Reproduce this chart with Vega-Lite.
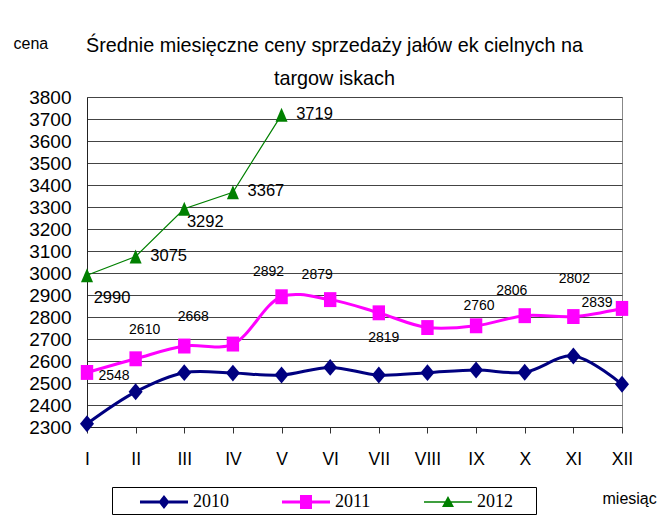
{
  "$schema": "https://vega.github.io/schema/vega-lite/v6.json",
  "autosize": {"type": "none"},
  "padding": {"left": 87, "top": 97, "right": 36, "bottom": 98},
  "width": 535,
  "height": 330,
  "background": "white",
  "title": {
    "text": ["Średnie miesięczne ceny sprzedaży jałów ek cielnych na", "targow iskach"],
    "font": "Liberation Sans",
    "fontSize": 19.8,
    "fontWeight": "normal",
    "color": "black",
    "lineHeight": 33,
    "anchor": "middle",
    "dx": -20,
    "offset": -54
  },
  "data": {
    "values": [
      {"month": "I", "series": "2010", "value": 2315},
      {"month": "II", "series": "2010", "value": 2460},
      {"month": "III", "series": "2010", "value": 2547},
      {"month": "IV", "series": "2010", "value": 2545},
      {"month": "V", "series": "2010", "value": 2536},
      {"month": "VI", "series": "2010", "value": 2571},
      {"month": "VII", "series": "2010", "value": 2536},
      {"month": "VIII", "series": "2010", "value": 2547},
      {"month": "IX", "series": "2010", "value": 2559},
      {"month": "X", "series": "2010", "value": 2549},
      {"month": "XI", "series": "2010", "value": 2623},
      {"month": "XII", "series": "2010", "value": 2494},
      {"month": "I", "series": "2011", "value": 2548},
      {"month": "II", "series": "2011", "value": 2610},
      {"month": "III", "series": "2011", "value": 2668},
      {"month": "IV", "series": "2011", "value": 2677},
      {"month": "V", "series": "2011", "value": 2892},
      {"month": "VI", "series": "2011", "value": 2879},
      {"month": "VII", "series": "2011", "value": 2819},
      {"month": "VIII", "series": "2011", "value": 2752},
      {"month": "IX", "series": "2011", "value": 2760},
      {"month": "X", "series": "2011", "value": 2806},
      {"month": "XI", "series": "2011", "value": 2802},
      {"month": "XII", "series": "2011", "value": 2839},
      {"month": "I", "series": "2012", "value": 2990},
      {"month": "II", "series": "2012", "value": 3075},
      {"month": "III", "series": "2012", "value": 3292},
      {"month": "IV", "series": "2012", "value": 3367},
      {"month": "V", "series": "2012", "value": 3719}
    ]
  },
  "encoding": {
    "x": {
      "field": "month", "type": "ordinal",
      "sort": ["I","II","III","IV","V","VI","VII","VIII","IX","X","XI","XII"],
      "scale": {"type": "point", "padding": 0, "domain": ["I","II","III","IV","V","VI","VII","VIII","IX","X","XI","XII"]},
      "axis": {
        "title": "miesiąc",
        "titleAngle": 0,
        "titleX": 515, "titleY": 76,
        "titleAlign": "left", "titleBaseline": "alphabetic",
        "titleFont": "Liberation Sans",
        "titleFontSize": 16, "titleFontWeight": "normal", "titleColor": "black",
        "labelAngle": 0,
        "labelFont": "Liberation Sans",
        "labelFontSize": 17.5, "labelColor": "black",
        "labelPadding": 17,
        "tickSize": 6, "tickColor": "#333", "ticks": true,
        "domainColor": "#222",
        "grid": false
      }
    },
    "y": {
      "field": "value", "type": "quantitative",
      "scale": {"domain": [2300, 3800], "nice": false, "zero": false},
      "axis": {
        "title": "cena",
        "titleAngle": 0,
        "titleX": -74, "titleY": -49,
        "titleAlign": "left", "titleBaseline": "alphabetic",
        "titleFont": "Liberation Sans",
        "titleFontSize": 16, "titleFontWeight": "normal", "titleColor": "black",
        "values": [2300,2400,2500,2600,2700,2800,2900,3000,3100,3200,3300,3400,3500,3600,3700,3800],
        "format": "d",
        "labelFont": "Liberation Sans",
        "labelFontSize": 19, "labelColor": "black",
        "ticks": false, "tickSize": 0,
        "labelPadding": 16,
        "domainColor": "#222",
        "grid": true, "gridColor": "#444", "gridWidth": 1
      }
    }
  },
  "layer": [
    {
      "transform": [{"filter": "datum.series != '2012'"}],
      "mark": {"type": "line", "interpolate": "catmull-rom", "strokeWidth": 3},
      "encoding": {
        "color": {
          "field": "series", "type": "nominal",
          "scale": {"domain": ["2010", "2011", "2012"], "range": ["#000080", "#FF00FF", "#008000"]},
          "legend": {
            "orient": "none",
            "legendX": 25, "legendY": 390,
            "direction": "horizontal",
            "title": " ",
            "titleOrient": "right",
            "titleFontSize": 18,
            "titlePadding": 20,
            "padding": 3,
            "strokeColor": "black",
            "fillColor": "white",
            "labelFont": "Liberation Serif",
            "labelFontSize": 18,
            "labelColor": "black",
            "labelOffset": 54,
            "symbolSize": 576,
            "columnPadding": 28,
            "encode": {
              "symbols": {
                "update": {
                  "shape": {"signal": "datum.value === '2010' ? 'M1.083,-0.125L5.083,-0.125L5.083,0.125L1.083,0.125Z M3.083,-0.58L3.543,0L3.083,0.58L2.623,0Z' : datum.value === '2011' ? 'M1.083,-0.125L5.083,-0.125L5.083,0.125L1.083,0.125Z M2.583,-0.58L3.583,-0.58L3.583,0.58L2.583,0.58Z' : 'M1.083,-0.06L5.083,-0.06L5.083,0.06L1.083,0.06Z M3.083,-0.5L3.583,0.42L2.583,0.42Z'"},
                  "fill": {"scale": "color", "field": "value"},
                  "fillOpacity": {"value": 1},
                  "strokeWidth": {"value": 0}
                }
              }
            }
          }
        }
      }
    },
    {
      "transform": [{"filter": "datum.series == '2012'"}],
      "mark": {"type": "line", "strokeWidth": 1.2, "color": "#008000"},
      "encoding": {}
    },
    {
      "transform": [{"filter": "datum.series == '2010'"}],
      "mark": {"type": "point", "filled": true, "size": 324, "opacity": 1, "strokeWidth": 0, "color": "#000080", "shape": "M0,-0.94L0.78,0L0,0.94L-0.78,0Z"},
      "encoding": {}
    },
    {
      "transform": [{"filter": "datum.series == '2011'"}],
      "mark": {"type": "point", "filled": true, "size": 324, "opacity": 1, "strokeWidth": 0, "color": "#FF00FF", "shape": "M-0.69,-0.83L0.69,-0.83L0.69,0.83L-0.69,0.83Z"},
      "encoding": {}
    },
    {
      "transform": [{"filter": "datum.series == '2012'"}],
      "mark": {"type": "point", "filled": true, "size": 324, "opacity": 1, "strokeWidth": 0, "color": "#008000", "shape": "M0,-0.78L0.67,0.78L-0.67,0.78Z"},
      "encoding": {}
    },
    {
      "transform": [{"filter": "datum.series == '2012' && indexof(['II','IV','V'], datum.month) >= 0"}],
      "mark": {"type": "text", "dx": 33, "dy": -1, "fontSize": 16.5, "font": "Liberation Sans", "color": "black", "align": "center", "baseline": "middle"},
      "encoding": {"text": {"field": "value", "type": "quantitative", "format": "d"}}
    },
    {
      "transform": [{"filter": "datum.series == '2012' && datum.month == 'I'"}],
      "mark": {"type": "text", "dx": 25, "dy": 23, "fontSize": 16.5, "font": "Liberation Sans", "color": "black", "align": "center", "baseline": "middle"},
      "encoding": {"text": {"field": "value", "type": "quantitative", "format": "d"}}
    },
    {
      "transform": [{"filter": "datum.series == '2012' && datum.month == 'III'"}],
      "mark": {"type": "text", "dx": 21, "dy": 13, "fontSize": 16.5, "font": "Liberation Sans", "color": "black", "align": "center", "baseline": "middle"},
      "encoding": {"text": {"field": "value", "type": "quantitative", "format": "d"}}
    },
    {
      "transform": [{"filter": "datum.series == '2011' && datum.month == 'I'"}],
      "mark": {"type": "text", "dx": 27, "dy": 4, "fontSize": 14, "font": "Liberation Sans", "color": "black", "align": "center", "baseline": "middle"},
      "encoding": {"text": {"field": "value", "type": "quantitative", "format": "d"}}
    },
    {
      "transform": [{"filter": "datum.series == '2011' && indexof(['II','III'], datum.month) >= 0"}],
      "mark": {"type": "text", "dx": 9, "dy": -29, "fontSize": 14, "font": "Liberation Sans", "color": "black", "align": "center", "baseline": "middle"},
      "encoding": {"text": {"field": "value", "type": "quantitative", "format": "d"}}
    },
    {
      "transform": [{"filter": "datum.series == '2011' && indexof(['V','VI','X'], datum.month) >= 0"}],
      "mark": {"type": "text", "dx": -13, "dy": -25, "fontSize": 14, "font": "Liberation Sans", "color": "black", "align": "center", "baseline": "middle"},
      "encoding": {"text": {"field": "value", "type": "quantitative", "format": "d"}}
    },
    {
      "transform": [{"filter": "datum.series == '2011' && datum.month == 'VII'"}],
      "mark": {"type": "text", "dx": 5, "dy": 25, "fontSize": 14, "font": "Liberation Sans", "color": "black", "align": "center", "baseline": "middle"},
      "encoding": {"text": {"field": "value", "type": "quantitative", "format": "d"}}
    },
    {
      "transform": [{"filter": "datum.series == '2011' && datum.month == 'IX'"}],
      "mark": {"type": "text", "dx": 3, "dy": -20, "fontSize": 14, "font": "Liberation Sans", "color": "black", "align": "center", "baseline": "middle"},
      "encoding": {"text": {"field": "value", "type": "quantitative", "format": "d"}}
    },
    {
      "transform": [{"filter": "datum.series == '2011' && datum.month == 'XI'"}],
      "mark": {"type": "text", "dx": 1, "dy": -38, "fontSize": 14, "font": "Liberation Sans", "color": "black", "align": "center", "baseline": "middle"},
      "encoding": {"text": {"field": "value", "type": "quantitative", "format": "d"}}
    },
    {
      "transform": [{"filter": "datum.series == '2011' && datum.month == 'XII'"}],
      "mark": {"type": "text", "dx": -25, "dy": -5, "fontSize": 14, "font": "Liberation Sans", "color": "black", "align": "center", "baseline": "middle"},
      "encoding": {"text": {"field": "value", "type": "quantitative", "format": "d"}}
    }
  ],
  "config": {
    "view": {"stroke": "#888", "strokeWidth": 1}
  }
}
